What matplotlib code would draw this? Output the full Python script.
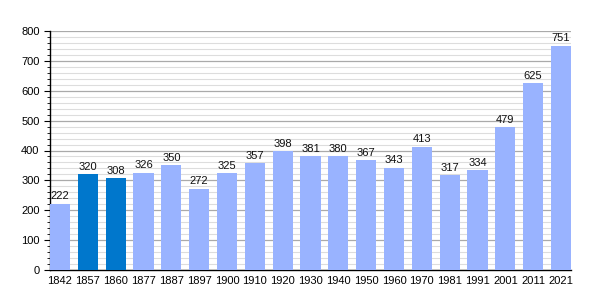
import matplotlib
matplotlib.use("Agg")
import matplotlib.pyplot as plt
from matplotlib.ticker import MultipleLocator

years = ["1842", "1857", "1860", "1877", "1887", "1897", "1900", "1910", "1920", "1930",
         "1940", "1950", "1960", "1970", "1981", "1991", "2001", "2011", "2021"]
population = [222, 320, 308, 326, 350, 272, 325, 357, 398, 381,
              380, 367, 343, 413, 317, 334, 479, 625, 751]
highlight = ["1857", "1860"]

plt.rcParams['font.family'] = ['Liberation Sans', 'DejaVu Sans']
fig = plt.figure(figsize=(6, 3), dpi=100)
ax = fig.add_axes([50/600, 1 - 270/300, 521/600, 239/300])

w = 0.72
colors = ['#0077cc' if y in highlight else '#99b3ff' for y in years]
x = list(range(len(years)))
bars = ax.bar(x, population, width=w, color=colors, zorder=3)
for xi, v in zip(x, population):
    ax.text(xi, v + 8, str(v), ha='center', va='bottom', fontsize=8, color='#111111', zorder=4)

ax.set_xlim(-w/2, len(years) - 1 + w/2)
ax.set_ylim(0, 800)
ax.yaxis.set_major_locator(MultipleLocator(100))
ax.yaxis.set_minor_locator(MultipleLocator(20))
ax.grid(which='major', axis='y', color='#aaaaaa', linewidth=0.9, zorder=0)
ax.grid(which='minor', axis='y', color='#dddddd', linewidth=0.8, zorder=0)
ax.set_xticks(x)
ax.set_xticklabels(years)
ax.tick_params(axis='x', length=0, labelsize=8, pad=4)
ax.tick_params(axis='y', which='major', length=4, labelsize=8, direction='out')
ax.tick_params(axis='y', which='minor', length=2, direction='out')
for s in ['top', 'right']:
    ax.spines[s].set_visible(False)
ax.spines['left'].set_linewidth(1)
ax.spines['bottom'].set_linewidth(1)

fig.savefig('out.png', dpi=100)
